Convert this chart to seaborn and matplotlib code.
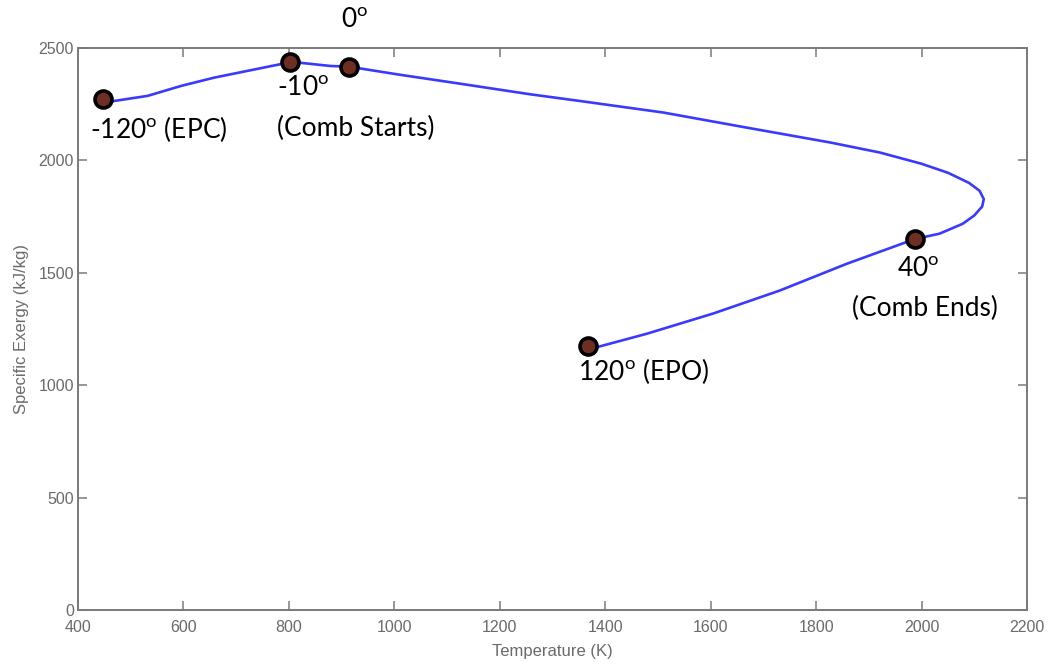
import matplotlib
matplotlib.use("Agg")
import matplotlib.pyplot as plt
import seaborn as sns
import pandas as pd

# Curve (temperature K, specific exergy kJ/kg), in crank order
curve_T = [447, 462, 532, 595, 658, 721, 784, 802, 879, 914, 1005, 1131, 1258, 1353,
           1510, 1668, 1826, 1921, 2000, 2050, 2090, 2110, 2118, 2115, 2100, 2078, 2034, 1987,
           1858, 1731, 1605, 1479, 1384, 1368]
curve_Ex = [2272, 2262, 2287, 2331, 2368, 2398, 2428, 2439, 2420, 2417, 2383, 2339, 2294, 2264,
            2213, 2146, 2080, 2035, 1985, 1945, 1900, 1865, 1828, 1795, 1755, 1718, 1674, 1650,
            1540, 1421, 1319, 1229, 1169, 1172]

# Marked crank-angle states
point_T = [447, 802, 914, 1987, 1368]
point_Ex = [2272, 2439, 2417, 1650, 1175]

xticks = [400, 600, 800, 1000, 1200, 1400, 1600, 1800, 2000, 2200]
yticks = [0, 500, 1000, 1500, 2000, 2500]

sns.set_theme(style="white")
plt.rcParams['font.family'] = ['Liberation Sans', 'DejaVu Sans']
plt.rcParams['mathtext.fontset'] = 'custom'
plt.rcParams['mathtext.rm'] = 'Lato'

fig = plt.figure(figsize=(10.52, 6.67), dpi=100)
ax = fig.add_axes([78 / 1052, 57 / 667, 949 / 1052, 562 / 667])

curve = pd.DataFrame({"T": curve_T, "Ex": curve_Ex})
pts = pd.DataFrame({"T": point_T, "Ex": point_Ex})

sns.lineplot(data=curve, x="T", y="Ex", sort=False, estimator=None, color="#3a3aff",
             linewidth=1.9, ax=ax, zorder=2)
sns.scatterplot(data=pts, x="T", y="Ex", s=150, color="#6e2e24", edgecolor="black",
                linewidth=2.6, ax=ax, zorder=3)

ax.set_xlim(400, 2200)
ax.set_ylim(0, 2500)
ax.set_xticks(xticks)
ax.set_yticks(yticks)

gray = "#7a7a7a"
for s in ax.spines.values():
    s.set_color(gray)
    s.set_linewidth(1.4)
ax.tick_params(axis='both', which='both', direction='in', length=6.5, width=1.1,
               color=gray, labelcolor="#6a6a6a", labelsize=11.5,
               top=True, right=True, bottom=True, left=True)
ax.tick_params(axis='x', pad=7)
ax.tick_params(axis='y', pad=3)
ax.set_xlabel("Temperature (K)", color="#6a6a6a", fontsize=12, labelpad=7)
ax.set_ylabel("Specific Exergy (kJ/kg)", color="#6a6a6a", fontsize=12, labelpad=7)

deg = r"$^\mathregular{o}$"
tfont = dict(family=['Lato', 'DejaVu Sans'], fontsize=19, color="black",
             ha="left", va="center")
labels = [
    (0, "-120" + deg + " (EPC)", (-13, -30)),
    (1, "-10" + deg, (-13, -27)),
    (1, "(Comb Starts)", (-13, -67)),
    (2, "0" + deg, (-8, 46)),
    (3, "40" + deg, (-18, -30)),
    (3, "(Comb Ends)", (-63, -69)),
    (4, "120" + deg + " (EPO)", (-10, -25)),
]
for i, txt, off in labels:
    ax.annotate(txt, (point_T[i], point_Ex[i]), xytext=off, textcoords="offset pixels",
                annotation_clip=False, **tfont)

fig.savefig("out.png", dpi=100)
